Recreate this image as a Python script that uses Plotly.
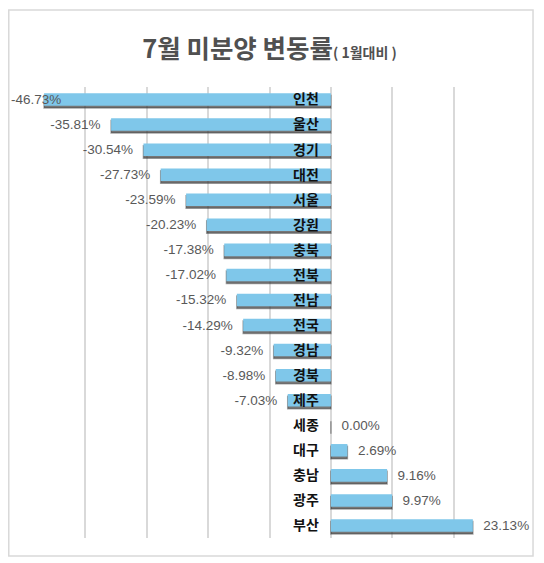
import plotly.graph_objects as go

# 지역별 7월 미분양 변동률 (1월 대비, %)
regions = ["인천", "울산", "경기", "대전", "서울", "강원", "충북", "전북", "전남",
           "전국", "경남", "경북", "제주", "세종", "대구", "충남", "광주", "부산"]
change = [-46.73, -35.81, -30.54, -27.73, -23.59, -20.23, -17.38, -17.02, -15.32,
          -14.29, -9.32, -8.98, -7.03, 0.00, 2.69, 9.16, 9.97, 23.13]
labels = ["%.2f%%" % v for v in change]

# a little padding between bar end and label
bar_text = [(t + "\u00a0\u00a0") if v < 0 else ("\u00a0\u00a0" + t) for t, v in zip(labels, change)]
text_pos = ["outside"] * len(change)
bar_text[0] = ""   # 인천 label does not fit left of the bar, placed as annotation
text_pos[0] = "none"

fig = go.Figure()

# shadow under the bars
fig.add_trace(go.Bar(
    x=change, y=regions, orientation="h",
    width=0.5, offset=-0.16,
    marker=dict(color="rgba(60,60,60,0.7)", line=dict(color="rgba(60,60,60,0.45)", width=1.5)),
    hoverinfo="skip", showlegend=False,
))

fig.add_trace(go.Bar(
    x=change, y=regions, orientation="h",
    width=0.5, offset=-0.25,
    marker=dict(color="#7FC7EA", line=dict(width=0)),
    text=bar_text, textposition=text_pos, cliponaxis=False, constraintext="none",
    textfont=dict(family="Liberation Sans", size=13.5, color="#595959"),
    showlegend=False,
))

# the page body adds an 8px margin, so the figure is 8px smaller
fig.update_layout(
    width=536, height=555,
    margin=dict(l=16, r=29, t=79, b=25),
    paper_bgcolor="white", plot_bgcolor="white",
    barmode="overlay",
    title=dict(
        text="7월 미분양 변동률<span style='font-size:14px'>( 1월대비 )</span>",
        font=dict(family="Noto Sans CJK KR", size=25.5, color="#505050", weight="bold"),
        xref="paper", x=0.50, xanchor="center",
        yref="container", y=0.926, yanchor="middle",
    ),
    xaxis=dict(
        range=[-50, 30], dtick=10, showticklabels=False,
        showgrid=True, gridcolor="#D9D9D9", gridwidth=1.5,
        zeroline=True, zerolinecolor="#D9D9D9", zerolinewidth=1.5,
        showline=False, fixedrange=True,
    ),
    yaxis=dict(
        autorange="reversed", anchor="free", position=0.625,
        showgrid=False, showline=False, ticks="",
        ticklabelstandoff=12,
        tickfont=dict(family="Noto Sans CJK KR", size=14, color="#111111", weight="bold"),
    ),
    annotations=[dict(
        x=-50, y=regions[0], xref="x", yref="y",
        text=labels[0], showarrow=False, xanchor="left", xshift=-15,
        font=dict(family="Liberation Sans", size=13.5, color="#595959"),
    )],
    shapes=[dict(
        type="rect", xref="paper", yref="paper",
        x0=-0.031, x1=1.0367, y0=-0.0399, y1=1.1707,
        line=dict(color="#D9D9D9", width=1.5), fillcolor="rgba(0,0,0,0)",
    )],
)

fig.write_html("out.html")
